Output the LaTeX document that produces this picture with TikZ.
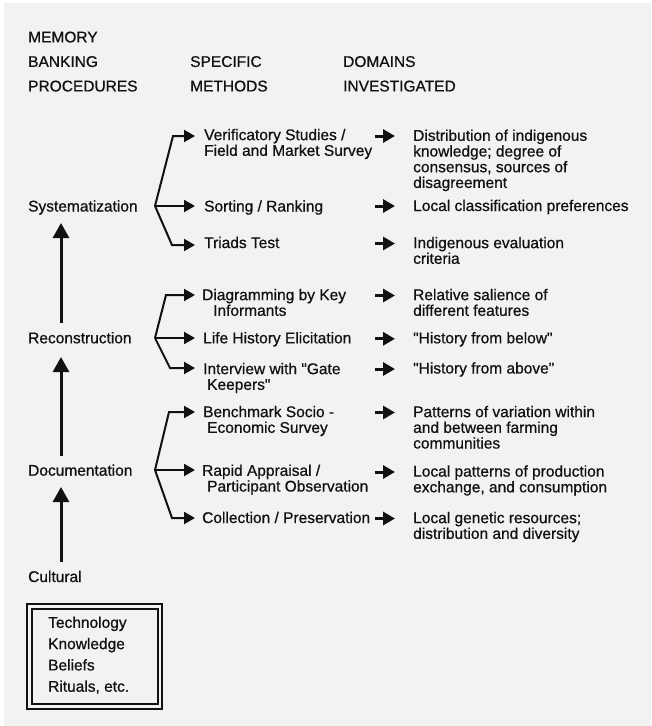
\documentclass[tikz,border=0pt]{standalone}
\usepackage{fontspec}
\setmainfont{Liberation Sans}[FakeBold=0.7, Ligatures=TeXOff]
\usetikzlibrary{arrows.meta}
\definecolor{bg}{HTML}{F2F2F2}
\definecolor{ink}{HTML}{111111}
\newcommand{\dq}{\char34\relax}
\begin{document}
\begin{tikzpicture}[x=1pt,y=-1pt,
  txt/.style={inner sep=0pt, text=ink, font=\fontsize{15.5}{15.7}\selectfont, align=left},
  one/.style={txt, anchor=base west},
  multi/.style={txt, anchor=north west},
  hdr/.style={inner sep=0pt, text=ink, font=\fontsize{15.5}{24.5}\selectfont, align=left, anchor=north west},
  branch/.style={draw=ink, line width=2pt, line join=miter, -{Triangle[length=11pt,width=12pt]}},
  uparrow/.style={draw=ink, line width=3pt, -{Triangle[length=15pt,width=16pt]}},
  darrow/.style={draw=ink, line width=3pt, -{Triangle[length=12pt,width=13pt]}},
  boxline/.style={draw=ink, line width=1.1pt}
]
\useasboundingbox (0,0) rectangle (651,726);
\fill[white] (0,0) rectangle (651,726);
\fill[bg] (4,3) rectangle (651,726);

% headers
\node[hdr] (h1) at (28,31.4) {MEMORY\\BANKING\\PROCEDURES};
\node[hdr] (h2) at (190,55.9) {SPECIFIC\\METHODS};
\node[hdr] (h3) at (343,55.9) {DOMAINS\\INVESTIGATED};

% procedures
\node[one] (sys) at (28,211.5) {Systematization};
\node[one] (rec) at (28,343.3) {Reconstruction};
\node[one] (doc) at (28,475.7) {Documentation};
\node[one] (cult) at (28,582) {Cultural};

\coordinate (cultTop) at (61,562);
\coordinate (docBot) at (61,487);
\coordinate (docTop) at (61,456);
\coordinate (recBot) at (61,357);
\coordinate (recTop) at (61,323);
\coordinate (sysBot) at (61,223);
\draw[uparrow] (cultTop) -- (docBot);
\draw[uparrow] (docTop) -- (recBot);
\draw[uparrow] (recTop) -- (sysBot);

% box
\draw[boxline] (27,604) rectangle (162,709);
\draw[boxline] (32,609) rectangle (158,704);
\node[hdr, font=\fontsize{15.5}{21.3}\selectfont] (box) at (48,616.4) {Technology\\Knowledge\\Beliefs\\Rituals, etc.};

% methods
\node[multi] (m1) at (204,128.7) {Verificatory Studies /\\Field and Market Survey};
\node[one] (m2) at (204,211.5) {Sorting / Ranking};
\node[one] (m3) at (204,248) {Triads Test};
\node[multi] (m4) at (202,288.7) {Diagramming by Key\\\hspace{11pt}Informants};
\node[one] (m5) at (203,343.3) {Life History Elicitation};
\node[multi] (m6) at (203,362.7) {Interview with \dq Gate\\\hspace{4pt}Keepers\dq};
\node[multi] (m7) at (203,405.7) {Benchmark Socio -\\\hspace{4pt}Economic Survey};
\node[multi] (m8) at (202,464.4) {Rapid Appraisal /\\\hspace{5pt}Participant Observation};
\node[one] (m9) at (202,523) {Collection / Preservation};

% branches
\coordinate (bS) at (155,206);
\coordinate (bS1) at (173,136);
\coordinate (tS1) at (195,136);
\coordinate (tS2) at (195,206);
\coordinate (bS3) at (172,245);
\coordinate (tS3) at (195,245);
\draw[branch] (bS) -- (bS1) -- (tS1);
\draw[branch] (bS) -- (tS2);
\draw[branch] (bS) -- (bS3) -- (tS3);

\coordinate (bR) at (155,338);
\coordinate (bR1) at (166,295);
\coordinate (tR1) at (195,295);
\coordinate (tR2) at (195,338);
\coordinate (bR3) at (170,368);
\coordinate (tR3) at (195,368);
\draw[branch] (bR) -- (bR1) -- (tR1);
\draw[branch] (bR) -- (tR2);
\draw[branch] (bR) -- (bR3) -- (tR3);

\coordinate (bD) at (155,470);
\coordinate (bD1) at (169,412);
\coordinate (tD1) at (195,412);
\coordinate (tD2) at (195,470);
\coordinate (bD3) at (172,518);
\coordinate (tD3) at (195,518);
\draw[branch] (bD) -- (bD1) -- (tD1);
\draw[branch] (bD) -- (tD2);
\draw[branch] (bD) -- (bD3) -- (tD3);

% domains
\node[multi] (d1) at (413,129.4) {Distribution of indigenous\\knowledge; degree of\\consensus, sources of\\disagreement};
\node[one] (d2) at (413,211) {Local classification preferences};
\node[multi] (d3) at (413,236.7) {Indigenous evaluation\\criteria};
\node[multi] (d4) at (413,288.7) {Relative salience of\\different features};
\node[one] (d5) at (413,343.3) {\dq History from below\dq};
\node[one] (d6) at (413,373.5) {\dq History from above\dq};
\node[multi] (d7) at (413,405.7) {Patterns of variation within\\and between farming\\communities};
\node[multi] (d8) at (413,465.2) {Local patterns of production\\exchange, and consumption};
\node[multi] (d9) at (413,511.7) {Local genetic resources;\\distribution and diversity};

% domain arrows
\foreach \y/\n in {136/1,206/2,243.5/3,295.5/4,338.8/5,369/6,412.5/7,472/8,518.5/9}{
  \coordinate (s\n) at (375,\y);
  \coordinate (e\n) at (395,\y);
  \draw[darrow] (s\n) -- (e\n);
}
\end{tikzpicture}
\end{document}
